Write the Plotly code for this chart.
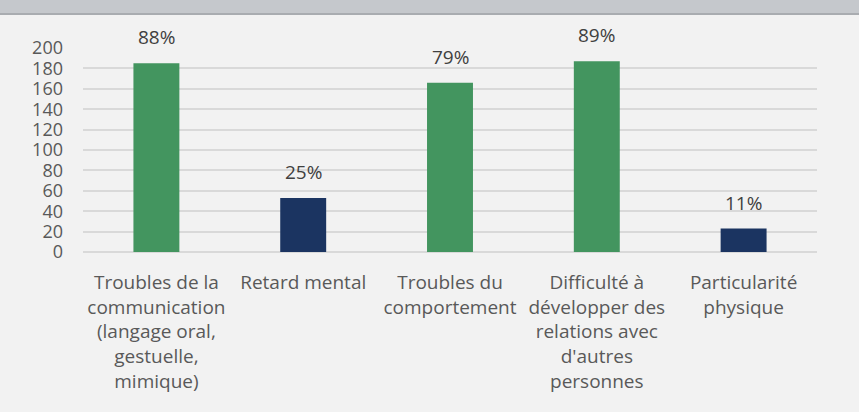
import plotly.graph_objects as go

categories = [
    "Troubles de la<br>communication<br>(langage oral,<br>gestuelle,<br>mimique)",
    "Retard mental",
    "Troubles du<br>comportement",
    "Difficulté à<br>développer des<br>relations avec<br>d'autres<br>personnes",
    "Particularité<br>physique",
]
counts = [185, 53, 166, 187, 23]
percents = ["88%", "25%", "79%", "89%", "11%"]
bar_colors = ["#43955F", "#1B3461", "#43955F", "#43955F", "#1B3461"]
y_ticks = [0, 20, 40, 60, 80, 100, 120, 140, 160, 180, 200]

FONT = "'Open Sans', Lato, sans-serif"
FS = 19

fig = go.Figure()
fig.add_trace(go.Bar(
    x=categories, y=counts,
    marker=dict(color=bar_colors, line=dict(width=0)),
    width=0.313,
    hoverinfo="skip",
))

for c, v, p in zip(categories, counts, percents):
    fig.add_annotation(x=c, y=v, text=p, showarrow=False, yanchor="bottom",
                       yshift=11, font=dict(family=FONT, size=FS, color="#404040"))

fig.update_layout(
    width=859, height=412,
    margin=dict(l=83, r=42, t=48, b=160, autoexpand=False),
    paper_bgcolor="#F2F2F2", plot_bgcolor="#F2F2F2",
    showlegend=False,
    bargap=0.687,
    font=dict(family=FONT, size=FS, color="#595959"),
    xaxis=dict(showgrid=False, zeroline=False, showline=False, ticks="",
               tickangle=0, ticklabelstandoff=17,
               tickfont=dict(family=FONT, size=FS, color="#595959")),
    yaxis=dict(range=[0, 200], tickvals=y_ticks, showgrid=True,
               gridcolor="#D9D9D9", gridwidth=1.5, zeroline=True,
               zerolinecolor="#D9D9D9", zerolinewidth=1.5, showline=False,
               ticks="", ticklabelstandoff=19,
               tickfont=dict(family=FONT, size=18, color="#595959")),
    shapes=[
        dict(type="rect", xref="paper", yref="paper",
             x0=-83 / 734, x1=1 + 42 / 734, y0=1 + 34 / 204, y1=1 + 48 / 204,
             fillcolor="#C5C8CC", line=dict(width=0), layer="below"),
        dict(type="line", xref="paper", yref="paper",
             x0=-83 / 734, x1=1 + 42 / 734, y0=1 + 34 / 204, y1=1 + 34 / 204,
             line=dict(color="#A9ACB0", width=2)),
    ],
)

fig.write_html(
    "out.html",
    config={"displayModeBar": False},
    post_script="document.body.style.margin='0';document.body.style.overflow='hidden';",
)
